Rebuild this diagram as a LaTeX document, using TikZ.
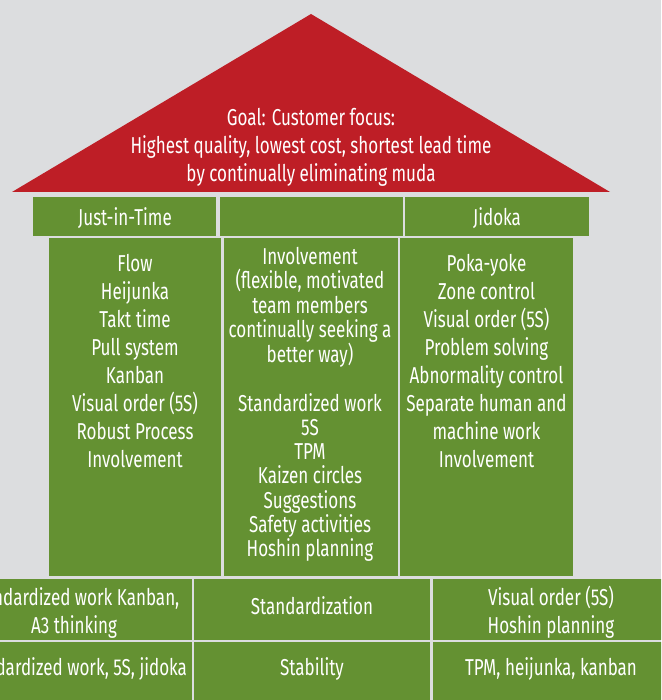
\documentclass[tikz,border=0pt]{standalone}
\usepackage{fontspec}
\setmainfont{Fira Sans}[FakeStretch=0.74]
\definecolor{bgcol}{RGB}{220,221,223}
\definecolor{roofred}{RGB}{190,30,38}
\definecolor{leangreen}{RGB}{100,145,50}
\tikzset{
  cell/.style={fill=leangreen, draw=none, inner sep=0pt, outer sep=0pt},
  txt/.style={text=white, align=center, inner sep=0pt, font=\fontsize{23}{28}\selectfont},
  tighttxt/.style={txt, font=\fontsize{23}{24.25}\selectfont},
}
\begin{document}
\begin{tikzpicture}[x=1pt,y=-1pt]
\useasboundingbox (0,0) rectangle (661,700);
\clip (0,0) rectangle (661,700);
\fill[bgcol] (0,0) rectangle (661,700);
% roof
\coordinate (roofL) at (12,192);
\coordinate (roofT) at (311,14);
\coordinate (roofR) at (610,192);
\fill[roofred] (roofL) -- (roofT) -- (roofR) -- cycle;
\node[txt] (goal) at (311,147) {Goal: Customer focus:\\Highest quality, lowest cost, shortest lead time\\by continually eliminating muda};
% header row
\node[cell, minimum width=183, minimum height=39] (hjit) at (124.5,216.5) {};
\node[cell, minimum width=183, minimum height=39] (hmid) at (311,216.5) {};
\node[cell, minimum width=184, minimum height=39] (hjid) at (497,216.5) {};
\node[txt] (tjit) at (125,218) {Just-in-Time};
\node[txt] (tjid) at (497,218) {Jidoka};
% pillars
\node[cell, minimum width=172.5, minimum height=338] (pleft) at (134.75,407) {};
\node[cell, minimum width=173.5, minimum height=338] (pmid) at (310.75,407) {};
\node[cell, minimum width=173, minimum height=338] (pright) at (486.5,407) {};
\node[txt] (tleft) at (135,361) {Flow\\Heijunka\\Takt time\\Pull system\\Kanban\\Visual order (5S)\\Robust Process\\Involvement};
\node[tighttxt] (tmid) at (310,404.5) {Involvement\\(flexible, motivated\\team members\\continually seeking a\\better way)\\[24.25pt]Standardized work\\5S\\TPM\\Kaizen circles\\Suggestions\\Safety activities\\Hoshin planning};
\node[txt] (tright) at (486.5,361) {Poka-yoke\\Zone control\\Visual order (5S)\\Problem solving\\Abnormality control\\Separate human and\\machine work\\Involvement};
% foundation row 1
\node[cell, minimum width=236, minimum height=61] (f1l) at (74,609.5) {};
\node[cell, minimum width=236, minimum height=61] (f1m) at (312,609.5) {};
\node[cell, minimum width=236, minimum height=61] (f1r) at (551,609.5) {};
\node[txt] (tf1l) at (74,612.5) {Standardized work Kanban,\\A3 thinking};
\node[txt] (tf1m) at (312,606) {Standardization};
\node[txt] (tf1r) at (551,612.5) {Visual order (5S)\\Hoshin planning};
% foundation row 2
\node[cell, minimum width=236, minimum height=62] (f2l) at (74,673) {};
\node[cell, minimum width=236, minimum height=62] (f2m) at (312,673) {};
\node[cell, minimum width=236, minimum height=62] (f2r) at (551,673) {};
\node[txt] (tf2l) at (74,669) {Standardized work, 5S, jidoka};
\node[txt] (tf2m) at (312,669) {Stability};
\node[txt] (tf2r) at (551,669) {TPM, heijunka, kanban};
\end{tikzpicture}
\end{document}
